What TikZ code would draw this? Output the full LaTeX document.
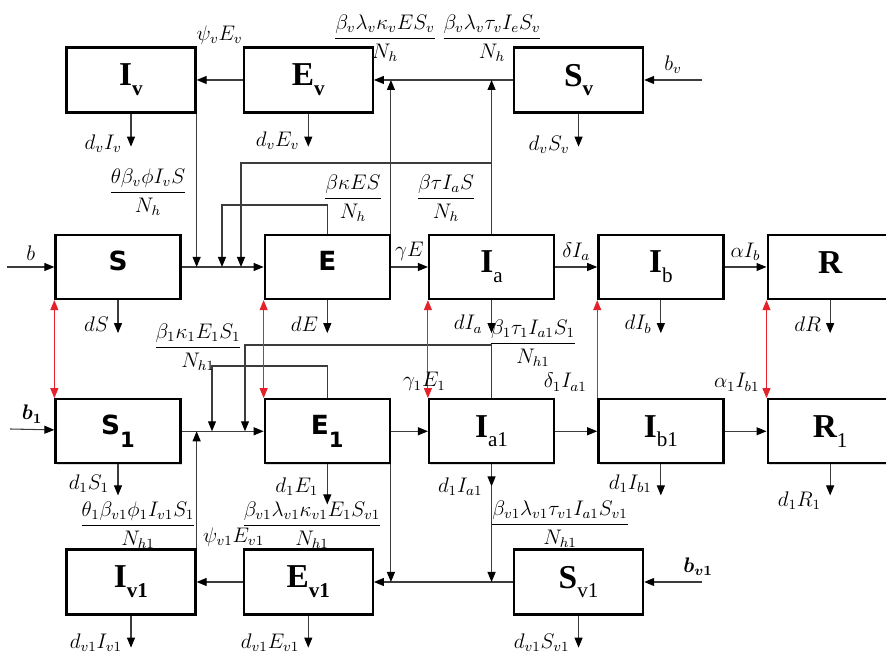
\documentclass[tikz,border=0pt]{standalone}
\usepackage{amsmath}
\usepackage{bm}
\usepackage{fontspec}
\setmainfont{Liberation Serif}
\newfontfamily\boxsans{DejaVu Sans}
\usepackage{tikz}
\usetikzlibrary{arrows.meta,positioning,calc,shadows}
\definecolor{flowgray}{HTML}{3C3C3C}
\definecolor{linkred}{HTML}{E3222B}
% box captions: serif and sans
\newcommand{\hname}[2]{{\fontsize{19}{22}\selectfont\bfseries #1}\raisebox{-5.5pt}{\fontsize{12}{14}\selectfont #2}}
\newcommand{\sname}[2]{{\boxsans\bfseries\fontsize{15}{18}\selectfont #1\raisebox{-7pt}{\fontsize{12}{14}\selectfont #2}}}

\begin{document}
\begin{tikzpicture}[
  font=\large,
  box/.style={draw,line width=1.3pt,fill=white,minimum width=2.5cm,minimum height=1.28cm,inner sep=0pt,
              drop shadow={shadow xshift=0.8pt,shadow yshift=-0.8pt,opacity=0.3}},
  vbox/.style={box,minimum width=2.58cm,minimum height=1.3cm},
  arrow/.style={-{Triangle[length=2mm,width=1.6mm,color=black]},draw=flowgray,line width=0.6pt},
  link/.style={{Triangle[length=2mm,width=1.6mm]}-{Triangle[length=2mm,width=1.6mm]},draw=linkred,line width=0.6pt},
  uplink/.style={-{Triangle[length=2mm,width=1.6mm]},draw=linkred,line width=0.6pt}
]
\useasboundingbox (0,0) rectangle (17.72,13.2);

% human compartments
\node[box] (S) at (2.36,7.86) {\sname{S}{}};
\node[box,right=1.64cm of S] (E) {\sname{E}{}};
\node[box,right=0.74cm of E] (Ia) {\hname{I}{a}};
\node[box,right=0.84cm of Ia] (Ib) {\hname{I}{b}};
\node[box,right=0.84cm of Ib] (R) {\hname{R}{}};
\node[box,below=1.96cm of S] (S1) {\sname{S}{1}};
\node[box,below=1.96cm of E] (E1) {\sname{E}{1}};
\node[box,below=1.96cm of Ia] (Ia1) {\hname{I}{a1}};
\node[box,below=1.96cm of Ib] (Ib1) {\hname{I}{b1}};
\node[box,below=1.96cm of R] (R1) {\hname{R}{1}};

% vector compartments
\node[vbox] (Iv) at (2.62,11.6) {\hname{I}{\bfseries v}};
\node[vbox,right=0.92cm of Iv] (Ev) {\hname{E}{\bfseries v}};
\node[vbox,right=2.78cm of Ev] (Sv) {\hname{S}{\bfseries v}};
\node[vbox] (Iv1) at (2.62,1.56) {\hname{I}{\bfseries v1}};
\node[vbox,right=0.92cm of Iv1] (Ev1) {\hname{E}{\bfseries v1}};
\node[vbox,right=2.78cm of Ev1] (Sv1) {\hname{S}{v1}};

% inflows and bends
\coordinate (bin) at (0.14,7.86);
\coordinate (b1in) at (0.2,4.62);
\coordinate (bv) at (14.04,11.6);
\coordinate (bv1) at (14.04,1.56);
\coordinate (fbE) at (4.44,9.10);
\coordinate (fbIa) at (4.82,9.94);
\coordinate (fbE1) at (4.24,5.88);
\coordinate (fbIa1) at (4.90,6.30);

% main flows
\draw[arrow] (bin) -- node[above] (lb) {$b$} (S);
\draw[arrow] (S) -- (E);
\draw[arrow] (E) -- node[above] (lgE) {$\gamma E$} (Ia);
\draw[arrow] (Ia) -- node[above] (ldI) {$\delta I_a$} (Ib);
\draw[arrow] (Ib) -- node[above] (laI) {$\alpha I_b$} (R);
\draw[arrow] (b1in) -- node[above] (lb1) {$\bm{b_1}$} (S1);
\draw[arrow] (S1) -- (E1);
\draw[arrow] (E1) -- (Ia1);
\draw[arrow] (Ia1) -- (Ib1);
\draw[arrow] (Ib1) -- (R1);
\draw[arrow] (bv) -- node[above] (lbv) {$b_v$} (Sv);
\draw[arrow] (Sv) -- (Ev);
\draw[arrow] (Ev) -- (Iv);
\draw[arrow] (bv1) -- node[above,xshift=0.5cm] (lbv1) {$\bm{b_{v1}}$} (Sv1);
\draw[arrow] (Sv1) -- (Ev1);
\draw[arrow] (Ev1) -- (Iv1);

% infection links
\draw[arrow] (Iv.south east) -- (Iv.south east |- S.east);
\draw[arrow] (E.north) |- (fbE) -- (fbE |- S.east);
\draw[arrow] (Ia.north) |- (fbIa) -- (fbIa |- S.east);
\draw[arrow] (Ia.north) -- (Ia |- Sv.west);
\draw[arrow] (E.north east) -- (E.north east |- Ev.east);
\draw[arrow] (Iv1.north east) -- (Iv1.north east |- S1.east);
\draw[arrow] (E1.north) |- (fbE1) -- (fbE1 |- S1.east);
\draw[arrow] (Ia1.north) |- (fbIa1) -- (fbIa1 |- S1.east);
\draw[arrow] (E1.south east) -- (E1.south east |- Ev1.east);

% deaths
\foreach \n/\len/\up/\t in {Iv/0.66/0.06/{d_vI_v},Ev/0.66/0.12/{d_vE_v},Sv/0.66/0.04/{d_vS_v},
    S/0.66/0.18/{dS},E/0.66/0.18/{dE},Ia/0.66/0.18/{dI_a},Ib/0.66/0.18/{dI_b},R/0.66/0.18/{dR},
    S1/0.62/0.24/{d_1S_1},E1/0.8/0.36/{d_1E_1},Ia1/0.44/0.0/{d_1I_{a1}},Ib1/0.62/0.24/{d_1I_{b1}},R1/0.62/-0.1/{d_1R_1},
    Iv1/0.64/0.1/{d_{v1}I_{v1}},Ev1/0.64/0.1/{d_{v1}E_{v1}},Sv1/0.64/0.1/{d_{v1}S_{v1}}}
{
  \coordinate (\n-out) at ([yshift=-\len cm]\n.south);
  \draw[arrow] (\n.south) -- (\n-out);
  \node[anchor=east,inner sep=1pt] (\n-lab) at ([xshift=-0.14cm,yshift=\up cm]\n-out) {$\t$};
}
\draw[arrow] (Ia1-out) -- (Ia1 |- Sv1.west);

% human links
\draw[link] (S.south west) -- (S1.north west);
\draw[link] (E.south west) -- (E1.north west);
\draw[link] (Ia.south west) -- (Ia1.north west);
\draw[uplink] (Ib1.north west) -- (Ib.south west);
\draw[link] (R.south west) -- (R1.north west);

% rates
\node[anchor=south west,inner sep=1pt] (lg1) at ([xshift=0.2cm,yshift=0.1cm]E1.north east) {$\gamma_1E_1$};
\node[anchor=south,inner sep=1pt] (ld1) at ([xshift=0.2cm,yshift=0.1cm]Ia1.north east) {$\delta_1I_{a1}$};
\node[anchor=south east,inner sep=1pt] (la1) at ([xshift=-0.1cm,yshift=0.1cm]R1.north west) {$\alpha_1I_{b1}$};
\node[anchor=south,inner sep=1pt] (lpsi) at ($(Iv.north east)!0.5!(Ev.north west)$) {$\psi_vE_v$};
\node[anchor=south,inner sep=1pt] (lpsi1) at ([xshift=0.28cm]$(Iv1.north east)!0.5!(Ev1.north west)$) {$\psi_{v1}E_{v1}$};
\node (rIv) at (2.96,9.36) {$\dfrac{\theta\beta_v\phi I_vS}{N_h}$};
\node (rE) at (7.06,9.24) {$\dfrac{\beta\kappa ES}{N_h}$};
\node (rIa) at (8.92,9.24) {$\dfrac{\beta\tau I_aS}{N_h}$};
\node (rEv) at (7.70,12.44) {$\dfrac{\beta_v\lambda_v\kappa_vES_v}{N_h}$};
\node (rSv) at (9.84,12.44) {$\dfrac{\beta_v\lambda_v\tau_vI_eS_v}{N_h}$};
\node (rE1) at (3.96,6.26) {$\dfrac{\beta_1\kappa_1E_1S_1}{N_{h1}}$};
\node (rIa1) at (10.66,6.34) {$\dfrac{\beta_1\tau_1I_{a1}S_1}{N_{h1}}$};
\node (rIv1) at (2.76,2.70) {$\dfrac{\theta_1\beta_{v1}\phi_1I_{v1}S_1}{N_{h1}}$};
\node (rEv1) at (6.24,2.70) {$\dfrac{\beta_{v1}\lambda_{v1}\kappa_{v1}E_1S_{v1}}{N_{h1}}$};
\node (rSv1) at (11.2,2.72) {$\dfrac{\beta_{v1}\lambda_{v1}\tau_{v1}I_{a1}S_{v1}}{N_{h1}}$};
\end{tikzpicture}
\end{document}
